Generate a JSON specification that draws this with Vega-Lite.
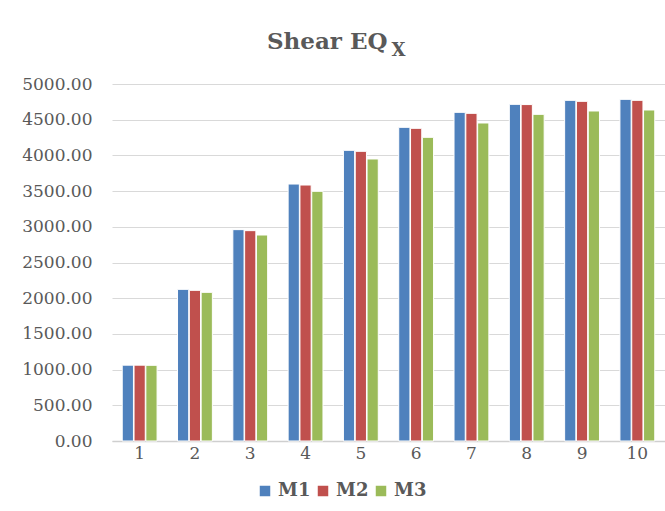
{
  "$schema": "https://vega.github.io/schema/vega-lite/v6.json",
  "autosize": {"type": "none"},
  "padding": {"left": 112, "top": 84, "right": 0, "bottom": 70},
  "width": 553,
  "height": 357,
  "background": "white",
  "title": {
    "text": "Shear EQ\u2800",
    "subtitle": "X",
    "anchor": "middle",
    "align": "right",
    "dx": 17,
    "offset": 15,
    "font": "DejaVu Serif",
    "fontSize": 23,
    "fontWeight": "bold",
    "color": "#595959",
    "subtitleFont": "DejaVu Serif",
    "subtitleFontSize": 18,
    "subtitleFontWeight": "bold",
    "subtitleColor": "#595959",
    "subtitlePadding": -12
  },
  "data": {
    "values": [
      {"storey": 1, "model": "M1", "shear": 1062},
      {"storey": 1, "model": "M2", "shear": 1062},
      {"storey": 1, "model": "M3", "shear": 1060},
      {"storey": 2, "model": "M1", "shear": 2124},
      {"storey": 2, "model": "M2", "shear": 2110},
      {"storey": 2, "model": "M3", "shear": 2082},
      {"storey": 3, "model": "M1", "shear": 2960},
      {"storey": 3, "model": "M2", "shear": 2946},
      {"storey": 3, "model": "M3", "shear": 2885},
      {"storey": 4, "model": "M1", "shear": 3599},
      {"storey": 4, "model": "M2", "shear": 3585},
      {"storey": 4, "model": "M3", "shear": 3497},
      {"storey": 5, "model": "M1", "shear": 4071},
      {"storey": 5, "model": "M2", "shear": 4057},
      {"storey": 5, "model": "M3", "shear": 3950},
      {"storey": 6, "model": "M1", "shear": 4393},
      {"storey": 6, "model": "M2", "shear": 4379},
      {"storey": 6, "model": "M3", "shear": 4253},
      {"storey": 7, "model": "M1", "shear": 4603},
      {"storey": 7, "model": "M2", "shear": 4589},
      {"storey": 7, "model": "M3", "shear": 4454},
      {"storey": 8, "model": "M1", "shear": 4715},
      {"storey": 8, "model": "M2", "shear": 4712},
      {"storey": 8, "model": "M3", "shear": 4575},
      {"storey": 9, "model": "M1", "shear": 4771},
      {"storey": 9, "model": "M2", "shear": 4757},
      {"storey": 9, "model": "M3", "shear": 4622},
      {"storey": 10, "model": "M1", "shear": 4785},
      {"storey": 10, "model": "M2", "shear": 4771},
      {"storey": 10, "model": "M3", "shear": 4636}
    ]
  },
  "mark": {"type": "bar", "stroke": "white", "strokeWidth": 1},
  "encoding": {
    "x": {
      "field": "storey",
      "type": "ordinal",
      "scale": {"paddingInner": 0.37, "paddingOuter": 0.185},
      "axis": {
        "title": null,
        "labelAngle": 0,
        "labelFont": "DejaVu Serif",
        "labelFontSize": 17,
        "labelColor": "#595959",
        "labelPadding": 4,
        "ticks": false,
        "domainColor": "#cfcfcf",
        "domainWidth": 1.5
      }
    },
    "xOffset": {
      "field": "model",
      "type": "nominal",
      "scale": {"paddingInner": 0.05}
    },
    "y": {
      "field": "shear",
      "type": "quantitative",
      "scale": {"domain": [0, 5000], "nice": false},
      "axis": {
        "title": null,
        "values": [0, 500, 1000, 1500, 2000, 2500, 3000, 3500, 4000, 4500, 5000],
        "format": ".2f",
        "labelFont": "DejaVu Serif",
        "labelFontSize": 17,
        "labelColor": "#595959",
        "labelPadding": 20,
        "ticks": false,
        "domain": false,
        "gridColor": "#d9d9d9",
        "gridWidth": 1.2
      }
    },
    "color": {
      "field": "model",
      "type": "nominal",
      "scale": {"domain": ["M1", "M2", "M3"], "range": ["#4f81bd", "#c0504d", "#9bbb59"]},
      "legend": {
        "title": null,
        "orient": "none",
        "direction": "horizontal",
        "legendX": 144,
        "legendY": 398,
        "symbolType": "square",
        "symbolSize": 110,
        "symbolStrokeWidth": 0,
        "labelFont": "DejaVu Serif",
        "labelFontSize": 18,
        "labelFontWeight": "bold",
        "labelColor": "#595959",
        "labelOffset": 4,
        "columnPadding": 3
      }
    }
  },
  "config": {
    "view": {"stroke": null}
  }
}
